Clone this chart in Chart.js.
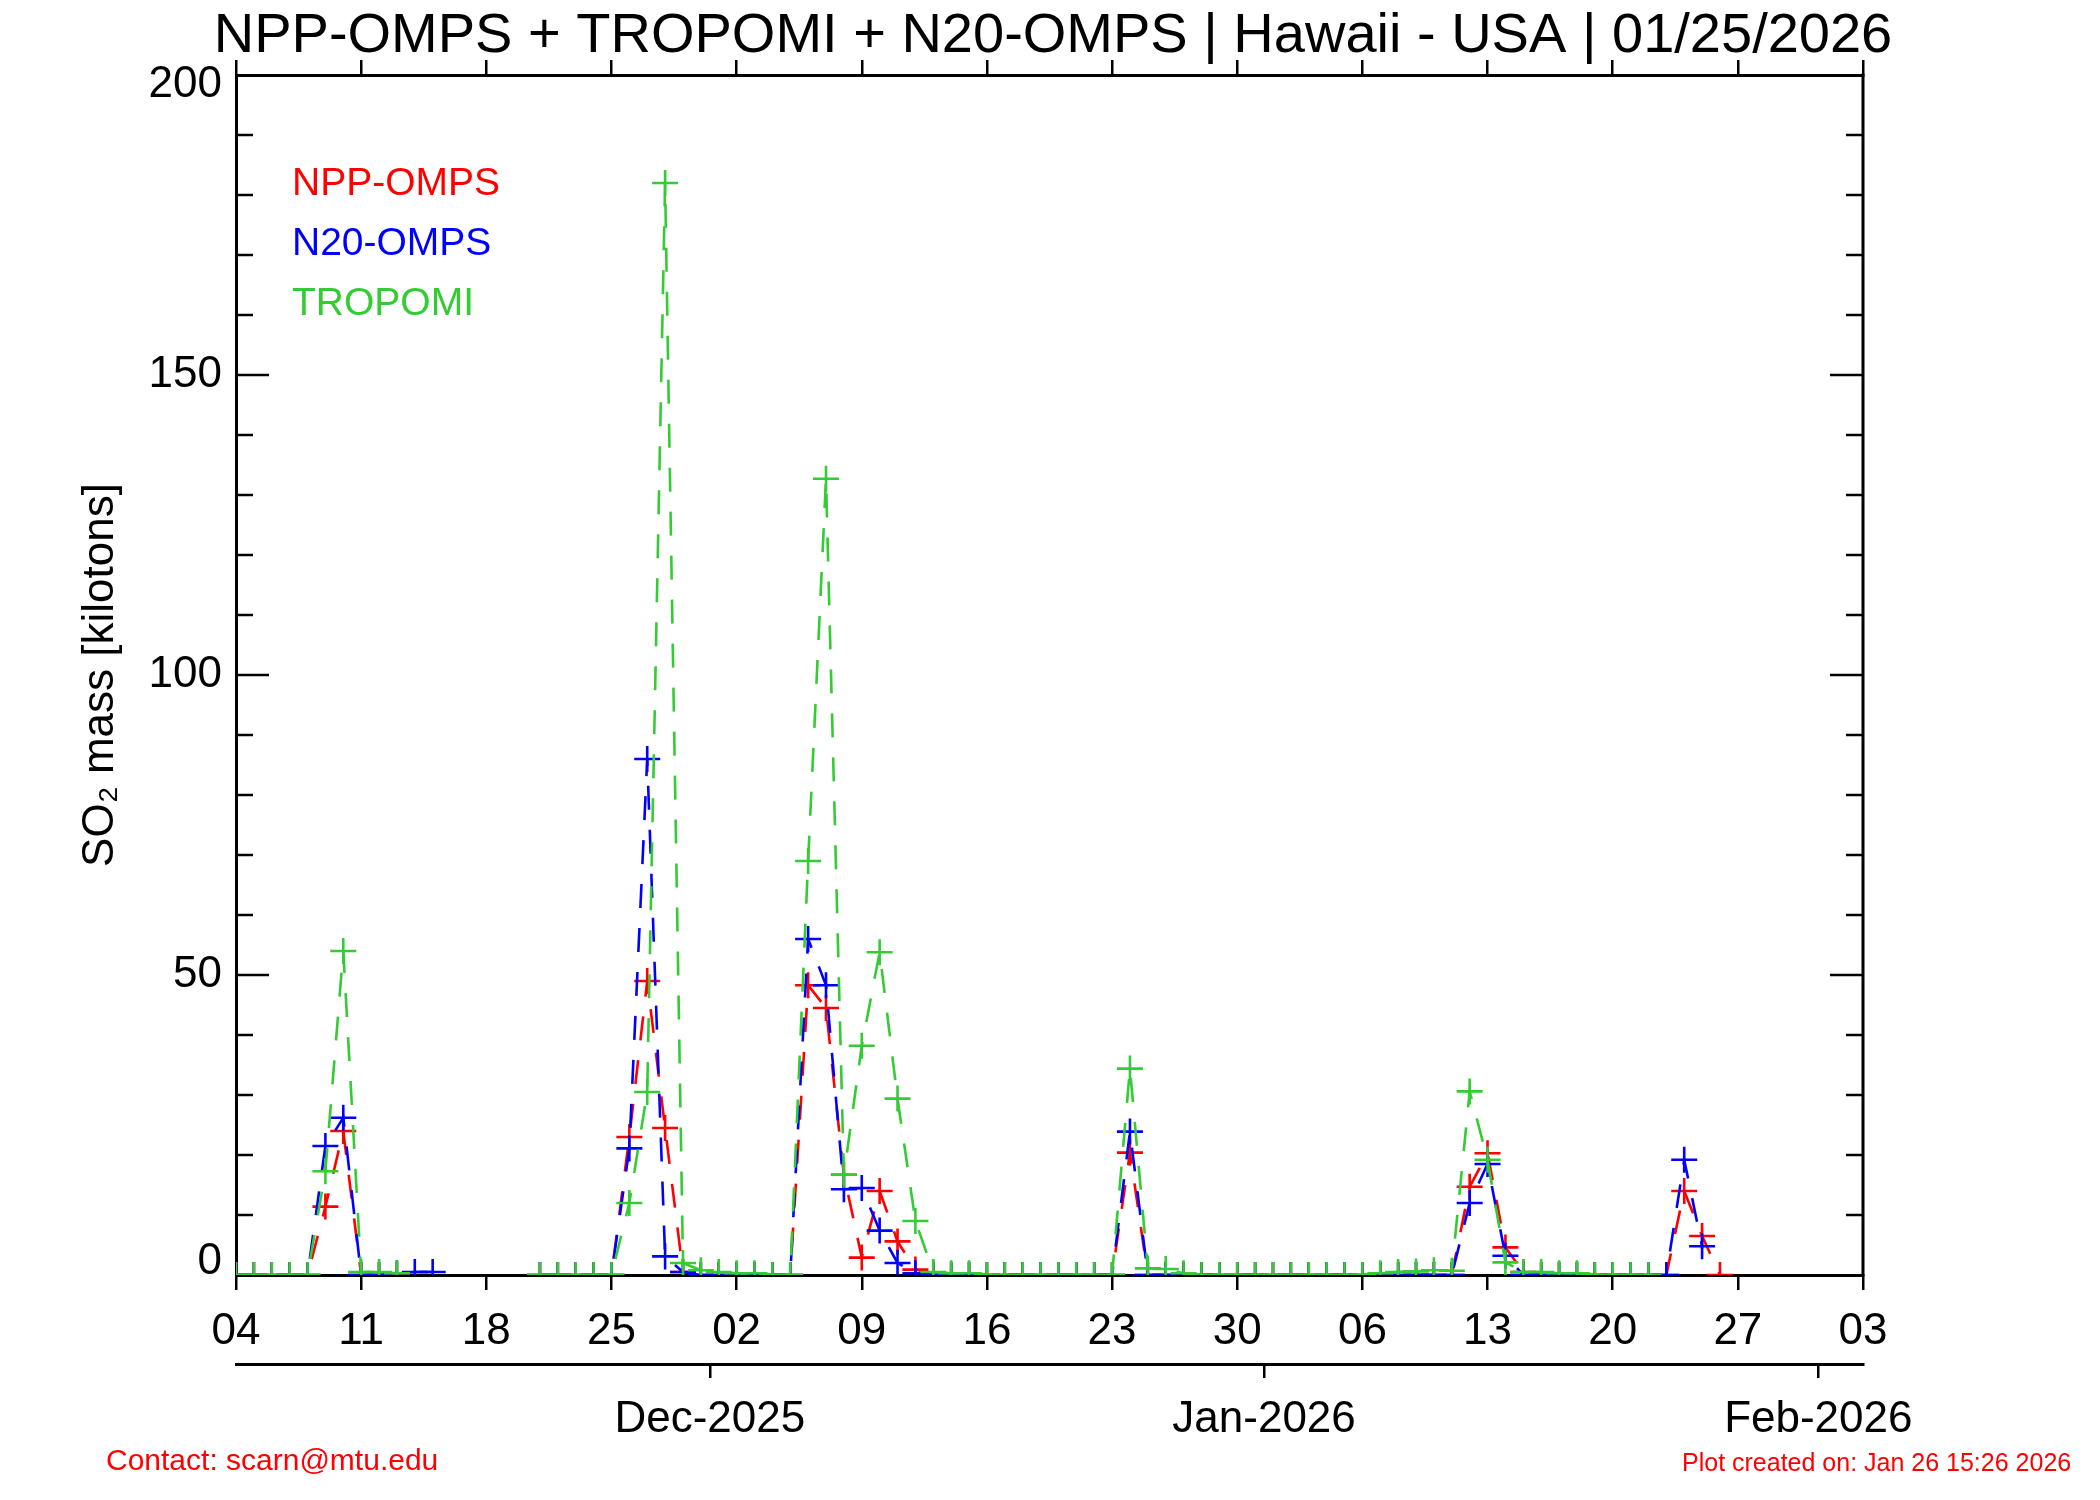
<!DOCTYPE html>
<html>
<head>
<meta charset="utf-8">
<title>SO2 mass - Hawaii - USA</title>
<script src="https://cdn.jsdelivr.net/npm/chart.js@4.4.1/dist/chart.umd.min.js"></script>
<style>
  html, body { margin: 0; padding: 0; background: #fff; }
  #wrap { width: 2100px; height: 1500px; }
</style>
</head>
<body>
<div id="wrap"><canvas id="so2Chart" width="2100" height="1500"></canvas></div>
<script>
// one value per day, index 0 = 2025-11-04 ; null = no retrieval that day
const firstDay = '2025-11-04';
const dayTickLabels = ['04', '11', '18', '25', '02', '09', '16', '23', '30', '06', '13', '20', '27', '03'];
const monthTickLabels = ['Dec-2025', 'Jan-2026', 'Feb-2026'];
const monthStarts = ['2025-12-01', '2026-01-01', '2026-02-01'];
const yTickValues = [0, 50, 100, 150, 200];

const nppOmps = [
    0, 0, 0, 0, 0, 11.4, 24,            // Nov 04 - Nov 10
    0, 0, 0, null, null, null, null,    // Nov 11 - Nov 17
    null, null, null, 0, 0, 0, 0,       // Nov 18 - Nov 24
    0, 23, 49, 24.5, 0.5, 0, 0,         // Nov 25 - Dec 01
    0, 0, 0, 0, 48.3, 44.5, 16.7,       // Dec 02 - Dec 08
    2.9, 14, 5.6, 0.9, 0.3, 0, 0,       // Dec 09 - Dec 15
    0, 0, 0, 0, 0, 0, 0,                // Dec 16 - Dec 22
    0, 20.4, 0, 0, 0, 0, 0,             // Dec 23 - Dec 29
    0, 0, 0, 0, 0, 0, 0,                // Dec 30 - Jan 05
    0, 0, 0, 0, 0, 0, 14.7,             // Jan 06 - Jan 12
    20.3, 4.6, 0.5, 0, 0, 0, 0,         // Jan 13 - Jan 19
    0, 0, 0, 0, 14, 6.5, 0              // Jan 20 - Jan 26
];
const n20Omps = [
    0, 0, 0, 0, 0, 21.5, 26.2,
    0, 0, 0.3, 0.5, 0.5, null, null,
    null, null, null, 0, 0, 0, 0,
    0, 21.1, 86, 3.1, 0.5, 0, 0,
    0, 0, 0, 0, 56, 48.3, 14.3,
    14.5, 7.4, 2, 0.3, 0, 0, 0,
    0, 0, 0, 0, 0, 0, 0,
    0, 23.9, 0, 0, 0, 0, 0,
    0, 0, 0, 0, 0, 0, 0,
    0, 0, 0, 0, 0, 0, 12,
    18.5, 3.2, 0, 0, 0, 0, 0,
    0, 0, 0, 0, 19.2, 4.8, null
];
const tropomi = [
    0, 0, 0, 0, 0, 17.3, 54,
    0.5, 0.5, 0.3, null, null, null, null,
    null, null, null, 0, 0, 0, 0,
    0, 12, 30.5, 182, 2, 0.8, 0.5,
    0.3, 0.3, 0, 0, 69, 132.7, 16.7,
    38.2, 53.8, 29.4, 9, 0.5, 0.3, 0.3,
    0, 0, 0, 0, 0, 0, 0,
    0, 34.4, 1.1, 1, 0.3, 0, 0,
    0, 0, 0, 0, 0, 0, 0,
    0, 0.3, 0.5, 0.6, 0.8, 0.7, 30.6,
    19.2, 2.1, 0.5, 0.5, 0.3, 0.3, 0,
    0, 0, 0, null, null, null, null
];

const DAY_MS = 86400000;
const daysFromStart = (d) => Math.round((Date.parse(d) - Date.parse(firstDay)) / DAY_MS);
// month ticks sit half a day before the 1st, like the original plot
const monthTickDays = monthStarts.map(d => daysFromStart(d) - 0.5);

const FONT = "'Liberation Sans', Arial, Helvetica, sans-serif";
const RED = '#ff0000', BLUE = '#0000ff', GREEN = '#33cc33';

Chart.defaults.font.family = FONT;
Chart.defaults.color = '#000';

function series(label, values, color, order) {
    return {
        label: label,
        data: values.map((v, i) => ({ x: i, y: v })),
        borderColor: color,
        backgroundColor: color,
        borderWidth: 2.6,
        borderDash: [24, 20],
        pointStyle: 'cross',
        pointRadius: 13,
        pointHoverRadius: 13,
        pointBorderWidth: 2.6,
        tension: 0,
        clip: 0,
        order: order
    };
}

const frameAndText = {
    id: 'frameAndText',
    afterDraw(chart) {
        const { ctx, chartArea: a, scales } = chart;
        const y = scales.y;
        ctx.save();
        ctx.strokeStyle = '#000';
        ctx.fillStyle = '#000';

        // right side of the box
        ctx.lineWidth = 3;
        ctx.beginPath();
        ctx.moveTo(a.right, a.top - 1.5);
        ctx.lineTo(a.right, a.bottom + 1.5);
        ctx.stroke();

        // inward y ticks, left and right
        ctx.lineWidth = 2.5;
        for (let v = 10; v < 200; v += 10) {
            const py = y.getPixelForValue(v);
            const len = v % 50 === 0 ? 33 : 17;
            ctx.beginPath();
            ctx.moveTo(a.left, py); ctx.lineTo(a.left + len, py);
            ctx.moveTo(a.right, py); ctx.lineTo(a.right - len, py);
            ctx.stroke();
        }

        // y tick labels (end labels kept inside the box as in the original)
        ctx.font = '44px ' + FONT;
        ctx.textAlign = 'right';
        ctx.textBaseline = 'middle';
        yTickValues.forEach(v => {
            let py = y.getPixelForValue(v);
            py = Math.min(Math.max(py, a.top + 10), a.bottom - 13);
            ctx.fillText(String(v), a.left - 14, py);
        });

        // y axis title
        ctx.save();
        ctx.translate(101, (a.top + a.bottom) / 2);
        ctx.rotate(-Math.PI / 2);
        ctx.textAlign = 'center';
        ctx.fillText('SO\u2082 mass [kilotons]', 0, 0);
        ctx.restore();

        // main title
        ctx.font = '56px ' + FONT;
        ctx.textAlign = 'center';
        ctx.textBaseline = 'alphabetic';
        ctx.fillText('NPP-OMPS + TROPOMI + N20-OMPS | Hawaii - USA | 01/25/2026', 1053, 52);

        // text legend in the upper left corner
        ctx.font = '39px ' + FONT;
        ctx.textAlign = 'left';
        ['NPP-OMPS', 'N20-OMPS', 'TROPOMI'].forEach((name, i) => {
            const ds = chart.data.datasets.find(d => d.label === name);
            ctx.fillStyle = ds.borderColor;
            ctx.fillText(name, 292, a.top + 120 + i * 60);
        });

        // footer
        ctx.fillStyle = RED;
        ctx.font = '30px ' + FONT;
        ctx.fillText('Contact: scarn@mtu.edu', 106, 1470);
        ctx.font = '25px ' + FONT;
        ctx.fillText('Plot created on: Jan 26 15:26 2026', 1682, 1471);
        ctx.restore();
    }
};

new Chart(document.getElementById('so2Chart'), {
    type: 'line',
    data: {
        datasets: [
            series('NPP-OMPS', nppOmps, RED, 2),
            series('N20-OMPS', n20Omps, BLUE, 1),
            series('TROPOMI', tropomi, GREEN, 0)
        ]
    },
    options: {
        responsive: false,
        devicePixelRatio: 1,
        animation: false,
        events: [],
        layout: { padding: { left: 0, right: 237, top: 0, bottom: 0 } },
        plugins: {
            legend: { display: false },
            tooltip: { enabled: false },
            title: { display: false }
        },
        scales: {
            x: {
                type: 'linear',
                position: 'bottom',
                weight: 0,
                min: 0,
                max: 91,
                afterFit: s => { s.height = 89; },
                ticks: {
                    stepSize: 7,
                    autoSkip: false,
                    maxRotation: 0,
                    padding: 15,
                    font: { size: 44 },
                    callback: v => dayTickLabels[Math.round(v / 7)]
                },
                grid: { drawOnChartArea: false, tickLength: 15, color: '#000', lineWidth: 2.5 },
                border: { color: '#000', width: 3 }
            },
            x2: {
                type: 'linear',
                position: 'bottom',
                weight: 1,
                min: 0,
                max: 91,
                afterFit: s => { s.height = 136; },
                afterBuildTicks: s => { s.ticks = monthTickDays.map(v => ({ value: v })); },
                ticks: {
                    autoSkip: false,
                    maxRotation: 0,
                    padding: 15,
                    font: { size: 44 },
                    callback: (v, i) => monthTickLabels[i]
                },
                grid: { drawOnChartArea: false, tickLength: 14, color: '#000', lineWidth: 2.5 },
                border: { color: '#000', width: 3 }
            },
            xTop: {
                type: 'linear',
                position: 'top',
                min: 0,
                max: 91,
                afterFit: s => { s.height = 75; },
                ticks: { stepSize: 7, display: false },
                grid: { drawOnChartArea: false, tickLength: 15, color: '#000', lineWidth: 2.5 },
                border: { color: '#000', width: 3 }
            },
            y: {
                type: 'linear',
                position: 'left',
                min: 0,
                max: 200,
                afterFit: s => { s.width = 236; },
                ticks: { display: false, stepSize: 50 },
                grid: { display: false },
                border: { color: '#000', width: 3 }
            }
        }
    },
    plugins: [frameAndText]
});
</script>
</body>
</html>
